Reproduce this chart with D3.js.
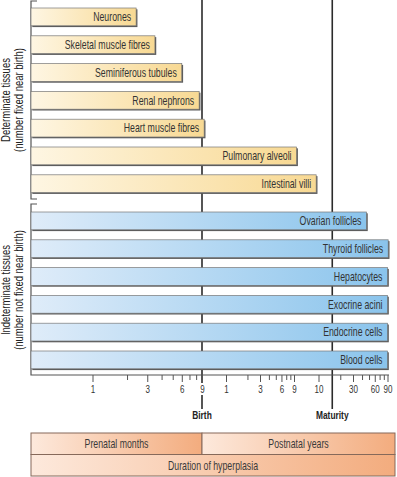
<!DOCTYPE html>
<html>
<head>
<meta charset="utf-8">
<script src="https://cdn.jsdelivr.net/npm/d3@7"></script>
<style>
  body { margin: 0; background: #fff; }
  svg { display: block; font-family: "Liberation Sans", Arial, sans-serif; }
</style>
</head>
<body>
<svg></svg>
<script>
const detTissues = ['Neurones', 'Skeletal muscle fibres', 'Seminiferous tubules', 'Renal nephrons',
                    'Heart muscle fibres', 'Pulmonary alveoli', 'Intestinal villi'];
const detEndUnit = ['month', 'month', 'month', 'month', 'month', 'year', 'year'];
const detEndValue = [2.4, 3.5, 6, 8.5, 9.4, 9.1, 9.9];

// tissues that keep dividing (years after birth)
const indetTissues = ['Ovarian follicles', 'Thyroid follicles', 'Hepatocytes',
                      'Exocrine acini', 'Endocrine cells', 'Blood cells'];
const indetEndValue = [46, 92, 90, 90, 90, 90];

const monthTicks = [1, 2, 3, 4, 5, 6, 7, 8, 9];
const monthLabels = [1, 3, 6, 9];
const yearTicks = [1, 2, 3, 4, 5, 6, 7, 8, 9, 10, 20, 30, 40, 50, 60, 70, 80, 90];
const yearLabels = [1, 3, 6, 9, 10, 30, 60, 90];
const birthMonth = 9;
const maturityYear = 15.5;

const periods = ['Prenatal months', 'Postnatal years'];
const durationLabel = 'Duration of hyperplasia';
const groupLabels = [['Determinate tissues', '(number fixed near birth)'],
                     ['Indeterminate tissues', '(number not fixed near birth)']];

const width = 397;
const height = 477;
const left = 31;
const right = 395;
const axisY = 375;
const squeeze = 0.73;   // the figure uses a narrow face

// piecewise log age axis: prenatal months, then postnatal years
const monthX = d3.scaleLog().domain([1, 9]).range([92.5, 202]);
const yearX = d3.scaleLog().domain([1, 9, 10, 90]).range([226, 294, 318.5, 387.5]);
const endX = (unit, v) => unit === 'month' ? monthX(v) : yearX(v);

const detY = d3.scaleBand().domain(detTissues).range([3, 197.6]).paddingInner(0.36).paddingOuter(0.18);
const indetY = d3.scaleBand().domain(indetTissues).range([207, 373.8]).paddingInner(0.36).paddingOuter(0.18);

const svg = d3.select('svg')
              .attr('width', width)
              .attr('height', height);

const defs = svg.append('defs');
function gradient(id, from, to) {
  const g = defs.append('linearGradient').attr('id', id);
  g.append('stop').attr('offset', '0%').attr('stop-color', from);
  g.append('stop').attr('offset', '100%').attr('stop-color', to);
}
gradient('gYellow', '#fef6e3', '#f8d993');
gradient('gBlue', '#dfecf9', '#8ac4ec');
gradient('gOrange', '#fde9dc', '#f3ac7e');

const birthX = monthX(birthMonth);
const maturityX = yearX(maturityYear);

// places a narrow text at (x, y)
function label(parent, str, x, y, size, anchor, rotate) {
  return parent.append('text')
    .text(str)
    .attr('transform', `translate(${x}, ${y})${rotate ? ' rotate(-90)' : ''} scale(${squeeze}, 1)`)
    .style('text-anchor', anchor)
    .style('font-size', size + 'px');
}

// birth / maturity markers, drawn under the bars
svg.append('line')
   .attr('x1', birthX).attr('x2', birthX)
   .attr('y1', 0).attr('y2', axisY + 8)
   .attr('stroke', '#2b2b2b').attr('stroke-width', 1.6);
svg.append('line')
   .attr('x1', birthX).attr('x2', birthX)
   .attr('y1', 395).attr('y2', 409)
   .attr('stroke', '#2b2b2b').attr('stroke-width', 1.6);
svg.append('line')
   .attr('x1', maturityX).attr('x2', maturityX)
   .attr('y1', 0).attr('y2', 409)
   .attr('stroke', '#2b2b2b').attr('stroke-width', 1.6);

// group brackets on the left
const bracket = svg.append('g').attr('stroke', '#555').attr('fill', 'none').attr('stroke-width', 1.2);
bracket.append('path').attr('d', `M${left + 6},1 H${left} V199 H${left + 6}`);
bracket.append('path').attr('d', `M${left + 6},204 H${left} V${axisY} H389`);

function drawBars(names, yScale, ends, fill) {
  const g = svg.append('g')
               .selectAll('g')
               .data(names)
               .enter()
               .append('g');
  g.append('rect')
     .attr('x', left + 1.3)
     .attr('y', (d) => yScale(d) + 1.3)
     .attr('width', (d, i) => ends[i] - left)
     .attr('height', yScale.bandwidth())
     .attr('fill', '#595959');
  g.append('rect')
     .attr('x', left)
     .attr('y', (d) => yScale(d))
     .attr('width', (d, i) => ends[i] - left)
     .attr('height', yScale.bandwidth())
     .attr('fill', fill)
     .attr('stroke', '#777')
     .attr('stroke-width', 0.7);
  g.each(function (d, i) {
    label(d3.select(this), d, ends[i] - 5, yScale(d) + yScale.bandwidth() / 2 + 4.3, 12, 'end')
      .attr('fill', '#333');
  });
}

drawBars(detTissues, detY, detTissues.map((d, i) => endX(detEndUnit[i], detEndValue[i])), 'url(#gYellow)');
drawBars(indetTissues, indetY, indetEndValue.map((v) => yearX(v)), 'url(#gBlue)');

// age axis
function axis(scale, ticks, labels) {
  const minor = svg.append('g')
                   .attr('transform', `translate(0, ${axisY})`)
                   .call(d3.axisBottom(scale).tickValues(ticks.filter((t) => !labels.includes(t))).tickSize(5).tickFormat(''));
  const major = svg.append('g')
                   .attr('transform', `translate(0, ${axisY})`)
                   .call(d3.axisBottom(scale).tickValues(labels).tickSize(7).tickFormat(d3.format('d')));
  [minor, major].forEach((g) => {
    g.select('.domain').remove();
    g.selectAll('line').attr('stroke', '#555');
    g.selectAll('text')
     .attr('transform', `scale(${squeeze}, 1)`)
     .style('font-size', '11px')
     .style('font-family', 'inherit')
     .attr('fill', '#333');
  });
}
axis(monthX, monthTicks, monthLabels);
axis(yearX, yearTicks, yearLabels);

label(svg, 'Birth', birthX, 419, 11.5, 'middle').style('font-weight', 'bold').attr('fill', '#222');
label(svg, 'Maturity', maturityX, 419, 11.5, 'middle').style('font-weight', 'bold').attr('fill', '#222');

// group titles
[100, 290].forEach((cy, gi) => {
  groupLabels[gi].forEach((line, li) => {
    label(svg, line, li === 0 ? 10 : 22.5, cy, 13, 'middle', true).attr('fill', '#222');
  });
});

// period boxes
const boxTop = 433;
const boxMid = 454.5;
const boxBottom = 476;
const boxes = svg.append('g');
const periodEdges = [left, birthX, right];
boxes.selectAll('rect.period')
     .data(periods)
     .enter()
     .append('rect')
       .attr('x', (d, i) => periodEdges[i])
       .attr('y', boxTop)
       .attr('width', (d, i) => periodEdges[i + 1] - periodEdges[i])
       .attr('height', boxMid - boxTop)
       .attr('fill', 'url(#gOrange)')
       .attr('stroke', '#86695a')
       .attr('stroke-width', 1);
periods.forEach((p, i) => {
  label(boxes, p, (periodEdges[i] + periodEdges[i + 1]) / 2, (boxTop + boxMid) / 2 + 4.3, 12, 'middle')
    .attr('fill', '#3a3a3a');
});
boxes.append('rect')
     .attr('x', left)
     .attr('y', boxMid)
     .attr('width', right - left)
     .attr('height', boxBottom - boxMid)
     .attr('fill', 'url(#gOrange)')
     .attr('stroke', '#86695a')
     .attr('stroke-width', 1);
label(boxes, durationLabel, (left + right) / 2, (boxMid + boxBottom) / 2 + 4.3, 12, 'middle')
  .attr('fill', '#3a3a3a');
</script>
</body>
</html>
